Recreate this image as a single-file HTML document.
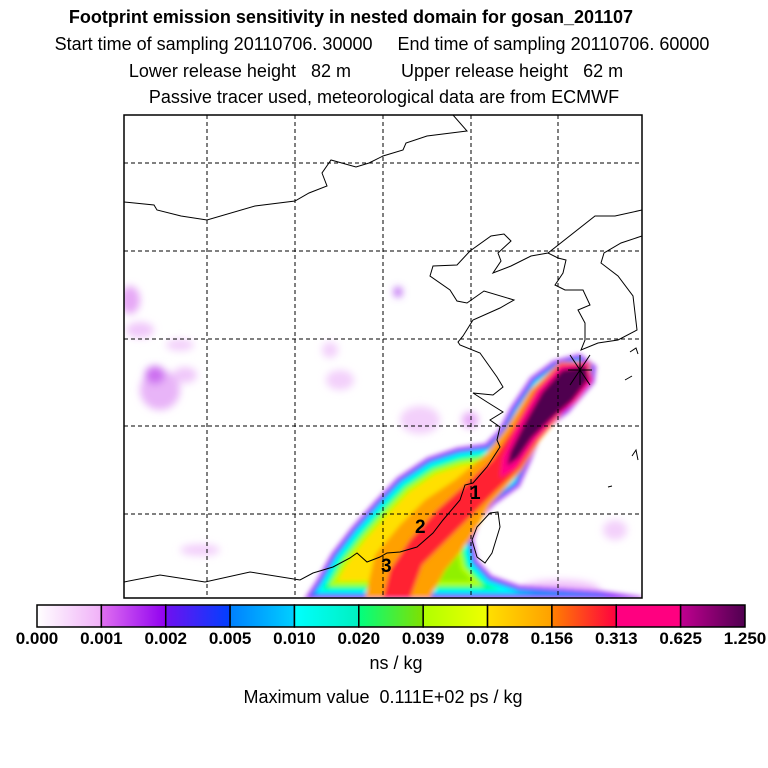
<!DOCTYPE html>
<html><head><meta charset="utf-8"><style>
body{margin:0;background:#fff;width:768px;height:768px;overflow:hidden;font-family:"Liberation Sans",sans-serif}
svg{position:absolute;left:0;top:0}
</style></head><body>
<svg id="s" width="768" height="768" viewBox="0 0 768 768">
<defs>
<filter id="bl" x="-20%" y="-20%" width="140%" height="140%"><feGaussianBlur stdDeviation="2"/></filter>
<filter id="bl4" x="-50%" y="-50%" width="200%" height="200%"><feGaussianBlur stdDeviation="4"/></filter>
<clipPath id="frame"><rect x="124" y="115" width="518" height="483"/></clipPath>
<clipPath id="outerClip"><path id="outerP" d="M597,366 L580,353 L553,360 L530,377 L510,407 L498,430 L485,443 L457,447 L427,457 L397,477 L375,500 L351,527 L331,553 L316,580 L303,600 L642,600 L642,596 L600,590 L520,585 L492,575 L478,560 L474,540 L480,520 L495,505 L520,487 L532,460 L542,433 L569,413 L595,383 Z"/></clipPath>
</defs>
<g font-size="18" text-anchor="middle" fill="#000">
<text x="351" y="23" font-weight="bold">Footprint emission sensitivity in nested domain for gosan_201107</text>
<text x="382" y="50">Start time of sampling 20110706. 30000&#160;&#160;&#160;&#160;&#160;End time of sampling 20110706. 60000</text>
<text x="376" y="77">Lower release height&#160;&#160;&#160;82 m&#160;&#160;&#160;&#160;&#160;&#160;&#160;&#160;&#160;&#160;Upper release height&#160;&#160;&#160;62 m</text>
<text x="384" y="103">Passive tracer used, meteorological data are from ECMWF</text>
</g>
<g clip-path="url(#frame)">
<g filter="url(#bl4)">
<ellipse cx="130" cy="300" rx="10" ry="14" fill="#e6a8f6"/>
<ellipse cx="140" cy="330" rx="14" ry="8" fill="#f0c8fa"/>
<ellipse cx="160" cy="390" rx="20" ry="20" fill="#e8b4f8"/>
<ellipse cx="155" cy="375" rx="10" ry="9" fill="#cc70f0"/>
<ellipse cx="185" cy="375" rx="12" ry="8" fill="#f0c8fa"/>
<ellipse cx="180" cy="345" rx="14" ry="6" fill="#f3d0fb"/>
<ellipse cx="398" cy="292" rx="4" ry="5" fill="#b050f0"/>
<ellipse cx="330" cy="350" rx="8" ry="8" fill="#f3d0fb"/>
<ellipse cx="340" cy="380" rx="14" ry="10" fill="#f3d0fb"/>
<ellipse cx="420" cy="420" rx="20" ry="14" fill="#f3d0fb"/>
<ellipse cx="470" cy="420" rx="8" ry="8" fill="#e6a8f6"/>
<ellipse cx="560" cy="590" rx="40" ry="10" fill="#f0c0fa"/>
<ellipse cx="615" cy="530" rx="12" ry="10" fill="#f3d0fb"/>
<ellipse cx="200" cy="550" rx="20" ry="6" fill="#f3d0fb"/>
</g>
<g filter="url(#bl)">
<g clip-path="url(#outerClip)">
<rect x="124" y="340" width="518" height="260" fill="#ffe000"/>
<path d="M475,598 L482,560 L470,540 L440,560 L425,598 Z" fill="#90f000"/>
<use href="#outerP" fill="none" stroke="#b0ff00" stroke-width="38"/>
<use href="#outerP" fill="none" stroke="#00ff80" stroke-width="28"/>
<use href="#outerP" fill="none" stroke="#00ffff" stroke-width="21"/>
<use href="#outerP" fill="none" stroke="#0090ff" stroke-width="14"/>
<use href="#outerP" fill="none" stroke="#8000ff" stroke-width="8"/>
<use href="#outerP" fill="none" stroke="#e090f8" stroke-width="4"/>
</g>
<path d="M590,362 L560,362 L530,390 L505,430 L485,455 L455,480 L425,500 L400,525 L375,555 L365,598 L430,598 L445,570 L470,540 L490,505 L522,470 L540,440 L565,410 L592,380 Z" fill="#ffa000"/>
<path d="M588,362 L560,364 L535,390 L512,430 L492,460 L465,485 L437,510 L410,540 L390,570 L383,598 L410,598 L422,565 L447,540 L472,515 L497,490 L520,468 L538,440 L562,412 L592,382 Z" fill="#ff2030"/>
<path d="M588,363 L560,366 L538,390 L518,425 L502,458 L500,478 L516,468 L534,442 L556,418 L576,402 L592,381 Z" fill="#ff0088"/>
<path d="M586,366 L562,370 L542,392 L525,422 L510,452 L507,466 L518,458 L532,438 L552,418 L572,401 L588,380 Z" fill="#500050"/>
</g>
<g fill="none" stroke="#000" stroke-width="1">
<path d="M124,202 L154,205 L157,210 L181,216 L207,220 L255,206 L295,201 L309,193 L327,186 L322,173 L331,160 L356,167 L369,163 L383,156 L403,150 L406,143 L427,136 L467,131 L453,115"/>
<path d="M642,210 L615,216 L595,216 L548,253 L531,256 L511,266 L493,273 L501,261 L498,253 L511,241 L504,234 L491,236 L470,251 L457,265 L433,266 L430,276 L450,290 L457,301 L467,303 L484,291 L514,300 L500,308 L473,320 L463,336 L458,342 L460,345 L480,353 L497,377 L503,387 L493,395 L473,393 L487,402 L503,412 L490,420 L500,427 L497,440 L500,447 L487,467 L473,483 L465,485 L460,500 L443,520 L433,533 L417,547 L400,552 L387,553 L380,557 L367,562 L357,553 L350,558 L333,567 L313,573 L300,580 L250,572 L205,582 L160,575 L124,582"/>
<path d="M548,253 L558,258 L566,260 L563,273 L555,285 L565,290 L583,290 L590,305 L578,310 L585,323 L585,340 L581,350 L598,343 L618,340 L637,330 L633,296 L618,276 L601,263 L604,253 L621,243 L642,236"/>
<path d="M498,512 L490,513 L477,527 L472,540 L477,557 L485,563 L492,553 L500,527 Z"/>
<path d="M630,352 L636,348 L638,354 M625,380 L632,376 M632,456 L636,450 L638,460 M608,487 L612,486"/>
</g>
<g stroke="#000" stroke-width="1">
<path d="M570,355 L590,385 M590,355 L570,385 M568,370 L592,370 M580,355 L580,385"/>
</g>
<g stroke="#000" stroke-width="1" stroke-dasharray="4,3">
<path d="M207,115V598M295,115V598M383,115V598M471,115V598M558,115V598M124,163H642M124,251H642M124,339H642M124,426H642M124,514H642"/>
</g>
<g font-size="19" font-weight="bold" fill="#000">
<text x="470" y="499">1</text>
<text x="415" y="533">2</text>
<text x="381" y="572">3</text>
</g>
</g>
<rect x="124" y="115" width="518" height="483" fill="none" stroke="#000" stroke-width="1.5"/>
<g id="cbar"></g>
<text x="396" y="669" font-size="18" text-anchor="middle">ns / kg</text>
<text x="383" y="703" font-size="18" text-anchor="middle">Maximum value&#160;&#160;0.111E+02 ps / kg</text>
</svg>
<script>
const tickLabels=["0.000","0.001","0.002","0.005","0.010","0.020","0.039","0.078","0.156","0.313","0.625","1.250"];
const segStart=["#ffffff","#e070f0","#7010f0","#0080ff","#00ffff","#00ff80","#b0ff00","#ffe000","#ff8000","#ff0080","#c00090"];
const segEnd=["#f0b0f8","#9000f0","#0040ff","#00d0ff","#00f0c0","#80e000","#f0ff00","#ffa000","#ff0040","#ff0080","#500050"];
const NS="http://www.w3.org/2000/svg";
const g=document.getElementById('cbar');
const x0=37,x1=745,y0=605,h=22;
const segW=(x1-x0)/segStart.length;
const defs=document.querySelector('defs');
segStart.forEach((c,i)=>{
  const lg=document.createElementNS(NS,'linearGradient');
  lg.setAttribute('id','sg'+i);
  lg.innerHTML='<stop offset="0" stop-color="'+c+'"/><stop offset="1" stop-color="'+segEnd[i]+'"/>';
  defs.appendChild(lg);
  const r=document.createElementNS(NS,'rect');
  r.setAttribute('x',x0+i*segW);r.setAttribute('y',y0);r.setAttribute('width',segW);r.setAttribute('height',h);
  r.setAttribute('fill','url(#sg'+i+')');r.setAttribute('stroke','#000');r.setAttribute('stroke-width','1.5');
  
  
  g.appendChild(r);
});
tickLabels.forEach((t,i)=>{
  const tx=document.createElementNS(NS,'text');
  tx.setAttribute('x',x0+i*segW);tx.setAttribute('y',644);
  tx.setAttribute('text-anchor','middle');tx.setAttribute('font-size','17');tx.setAttribute('font-weight','bold');
  tx.textContent=t;
  
  
  g.appendChild(tx);
});
</script>
</body></html>
